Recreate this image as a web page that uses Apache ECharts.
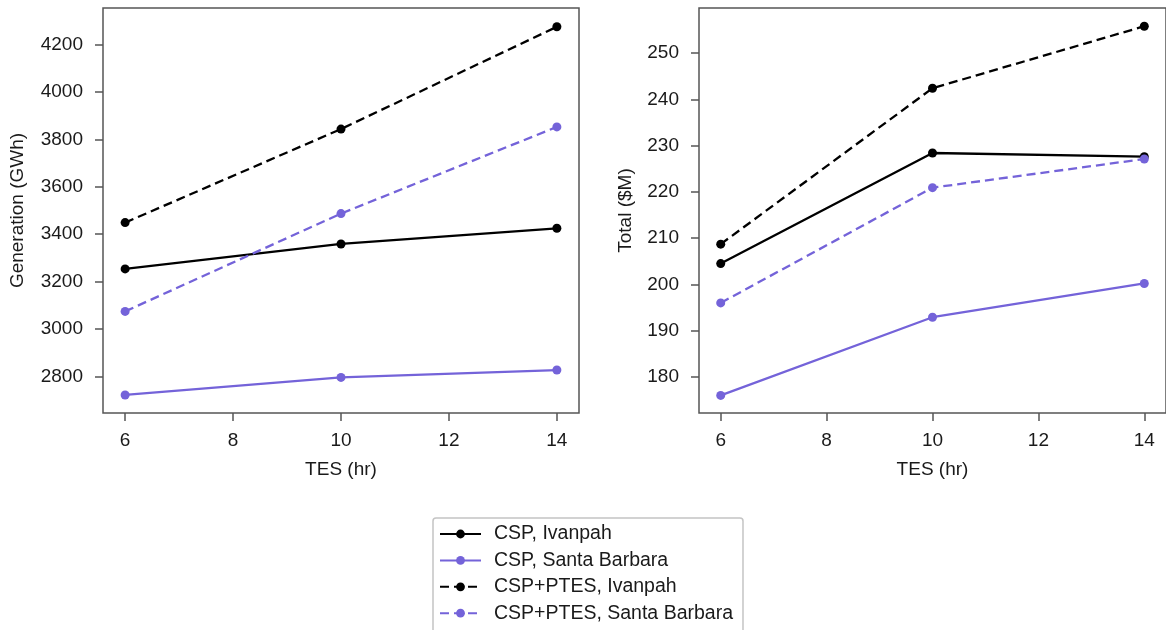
<!DOCTYPE html>
<html>
<head>
<meta charset="utf-8">
<script src="https://cdn.jsdelivr.net/npm/echarts@6/dist/echarts.min.js"></script>
<style>
html,body{margin:0;padding:0;background:#fff;}
#chart{width:1166px;height:630px;}
</style>
</head>
<body>
<div id="chart"></div>
<script>
// ---- data ----
const tesHours = [6, 10, 14];
const xTicks = [6, 8, 10, 12, 14];
const genTicks = [2800, 3000, 3200, 3400, 3600, 3800, 4000, 4200];
const costTicks = [180, 190, 200, 210, 220, 230, 240, 250];
const seriesNames = ['CSP, Ivanpah', 'CSP, Santa Barbara', 'CSP+PTES, Ivanpah', 'CSP+PTES, Santa Barbara'];

const genCspIvanpah = [3254, 3359, 3425];
const genCspSantaBarbara = [2723, 2797, 2828];
const genPtesIvanpah = [3449, 3843, 4274];
const genPtesSantaBarbara = [3075, 3487, 3852];

const costCspIvanpah = [204.5, 228.4, 227.6];
const costCspSantaBarbara = [176.0, 192.9, 200.2];
const costPtesIvanpah = [208.7, 242.4, 255.8];
const costPtesSantaBarbara = [196.0, 220.9, 227.1];

// ---- styling ----
const BLACK = '#000000';
const PURPLE = '#7463d9';
const AXIS = '#555555';
const TXT = '#1a1a1a';
const FONT = '"Liberation Sans", Arial, sans-serif';
const FS = 19;

const styles = [
  {color: BLACK, type: 'solid'},
  {color: PURPLE, type: 'solid'},
  {color: BLACK, type: [9, 5]},
  {color: PURPLE, type: [9, 5]}
];

function pairs(vals) { return tesHours.map((x, i) => [x, vals[i]]); }

function mkSeries(name, vals, idx, style) {
  return {
    name: name,
    type: 'line',
    xAxisIndex: idx,
    yAxisIndex: idx,
    data: pairs(vals),
    symbol: 'circle',
    symbolSize: 9,
    itemStyle: {color: style.color},
    lineStyle: {color: style.color, width: 2.3, type: style.type},
    emphasis: {disabled: true},
    animation: false
  };
}

const plain = v => String(v);

function xAxis(idx) {
  return {
    type: 'value', gridIndex: idx,
    min: 5.59, max: 14.41,
    name: 'TES (hr)', nameLocation: 'middle', nameGap: 47,
    nameTextStyle: {fontSize: FS, color: TXT, fontFamily: FONT},
    axisLine: {show: false},
    axisTick: {show: true, inside: false, length: 8, lineStyle: {color: AXIS, width: 1.5}, customValues: xTicks},
    axisLabel: {fontSize: FS, color: TXT, fontFamily: FONT, margin: 18, customValues: xTicks, formatter: plain},
    splitLine: {show: false}
  };
}

function yAxis(idx, min, max, ticks, name, gap) {
  return {
    type: 'value', gridIndex: idx,
    min: min, max: max,
    name: name, nameLocation: 'middle', nameGap: gap,
    nameTextStyle: {fontSize: FS, color: TXT, fontFamily: FONT},
    axisLine: {show: false},
    axisTick: {show: true, inside: false, length: 8, lineStyle: {color: AXIS, width: 1.5}, customValues: ticks},
    axisLabel: {fontSize: FS, color: TXT, fontFamily: FONT, margin: 20, customValues: ticks, formatter: plain},
    splitLine: {show: false}
  };
}

const chart = echarts.init(document.getElementById('chart'), null, {renderer: 'canvas'});
chart.setOption({
  backgroundColor: '#ffffff',
  animation: false,
  grid: [
    {left: 103, top: 8, width: 476, height: 405, show: true, borderColor: AXIS, borderWidth: 1.5, backgroundColor: 'transparent'},
    {left: 699, top: 8, width: 477, height: 405, show: true, borderColor: AXIS, borderWidth: 1.5, backgroundColor: 'transparent'}
  ],
  xAxis: [xAxis(0), xAxis(1)],
  yAxis: [
    yAxis(0, 2647, 4353, genTicks, 'Generation (GWh)', 76),
    yAxis(1, 172.2, 259.74, costTicks, 'Total ($M)', 64)
  ],
  legend: {
    data: seriesNames,
    orient: 'vertical',
    left: 433, top: 518,
    height: 160,
    padding: [6, 10, 20, 6],
    itemWidth: 41, itemHeight: 11,
    itemGap: 6.4,
    borderColor: '#c4c4c4', borderWidth: 1.5, borderRadius: 3,
    backgroundColor: '#ffffff',
    selectedMode: false,
    textStyle: {fontSize: 19.5, color: TXT, fontFamily: FONT, padding: [0, 0, 0, 8]}
  },
  series: [
    mkSeries(seriesNames[0], genCspIvanpah, 0, styles[0]),
    mkSeries(seriesNames[1], genCspSantaBarbara, 0, styles[1]),
    mkSeries(seriesNames[2], genPtesIvanpah, 0, styles[2]),
    mkSeries(seriesNames[3], genPtesSantaBarbara, 0, styles[3]),
    mkSeries(seriesNames[0], costCspIvanpah, 1, styles[0]),
    mkSeries(seriesNames[1], costCspSantaBarbara, 1, styles[1]),
    mkSeries(seriesNames[2], costPtesIvanpah, 1, styles[2]),
    mkSeries(seriesNames[3], costPtesSantaBarbara, 1, styles[3])
  ]
});
</script>
</body>
</html>
